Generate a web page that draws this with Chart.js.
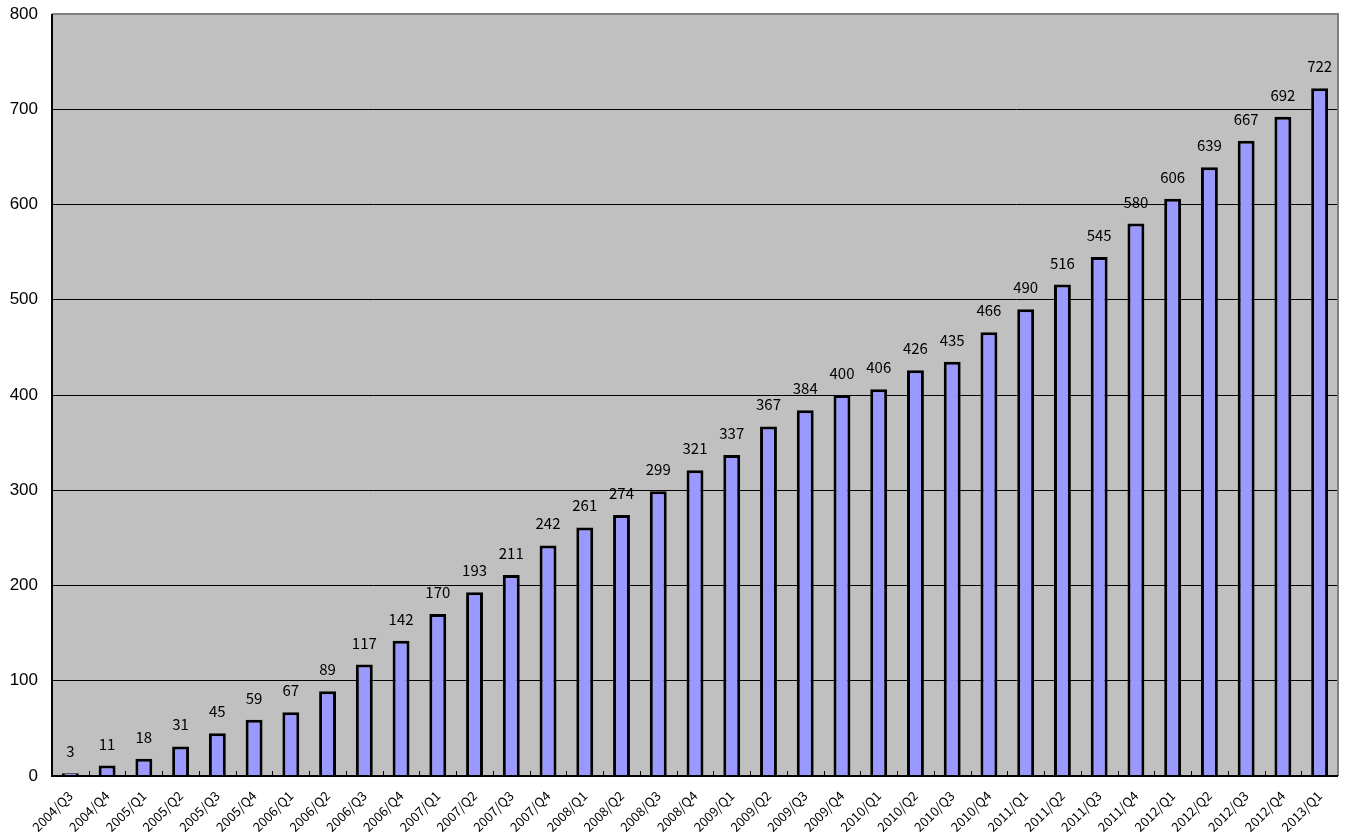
<!DOCTYPE html>
<html>
<head>
<meta charset="utf-8">
<script src="https://cdn.jsdelivr.net/npm/chart.js@4"></script>
<style>
  body { margin: 0; background: #fff; }
  #wrap { width: 1346px; height: 834px; }
</style>
</head>
<body>
<div id="wrap"><canvas id="myChart" width="1346" height="834"></canvas></div>
<script>
const quarters = [
  "2004/Q3", "2004/Q4",
  "2005/Q1", "2005/Q2", "2005/Q3", "2005/Q4",
  "2006/Q1", "2006/Q2", "2006/Q3", "2006/Q4",
  "2007/Q1", "2007/Q2", "2007/Q3", "2007/Q4",
  "2008/Q1", "2008/Q2", "2008/Q3", "2008/Q4",
  "2009/Q1", "2009/Q2", "2009/Q3", "2009/Q4",
  "2010/Q1", "2010/Q2", "2010/Q3", "2010/Q4",
  "2011/Q1", "2011/Q2", "2011/Q3", "2011/Q4",
  "2012/Q1", "2012/Q2", "2012/Q3", "2012/Q4",
  "2013/Q1"
];
const counts = [
  3, 11, 18, 31, 45, 59, 67, 89, 117, 142,
  170, 193, 211, 242, 261, 274, 299, 321, 337, 367,
  384, 400, 406, 426, 435, 466, 490, 516, 545, 580,
  606, 639, 667, 692, 722
];
const yMin = 0;
const yMax = 800;
const yStep = 100;

// gray plot background + frame
const plotArea = {
  id: "plotArea",
  beforeDraw(chart) {
    const { ctx, chartArea: a } = chart;
    ctx.save();
    ctx.fillStyle = "#c0c0c0";
    ctx.fillRect(a.left, a.top, a.right - a.left, a.bottom - a.top);
    ctx.restore();
  },
  afterDraw(chart) {
    const { ctx, chartArea: a, scales } = chart;
    ctx.save();
    ctx.strokeStyle = "#808080";
    ctx.lineWidth = 2;
    ctx.beginPath();
    ctx.moveTo(a.left, a.top);
    ctx.lineTo(a.right, a.top);
    ctx.lineTo(a.right, a.bottom);
    ctx.stroke();
    ctx.strokeStyle = "#000";
    ctx.beginPath();
    ctx.moveTo(a.left, a.top);
    ctx.lineTo(a.left, a.bottom);
    ctx.lineTo(a.right, a.bottom);
    ctx.stroke();
    // small inner tick marks between categories
    const x = scales.x;
    ctx.lineWidth = 1;
    ctx.beginPath();
    for (let i = 0; i < quarters.length - 1; i++) {
      const px = Math.round((x.getPixelForValue(i) + x.getPixelForValue(i + 1)) / 2) + 0.5;
      ctx.moveTo(px, a.bottom);
      ctx.lineTo(px, a.bottom - 5);
    }
    ctx.stroke();
    ctx.restore();
  }
};

// value labels above the bars
const valueLabels = {
  id: "valueLabels",
  afterDatasetsDraw(chart) {
    const { ctx } = chart;
    const meta = chart.getDatasetMeta(0);
    ctx.save();
    ctx.fillStyle = "#000";
    ctx.font = "15px 'Noto Sans CJK JP', sans-serif";
    ctx.textAlign = "center";
    ctx.textBaseline = "alphabetic";
    meta.data.forEach((bar, i) => {
      ctx.fillText(String(counts[i]), bar.x, bar.y - 16);
    });
    ctx.restore();
  }
};

const ctx = document.getElementById("myChart").getContext("2d");
const myChart = new Chart(ctx, {
  type: "bar",
  data: {
    labels: quarters,
    datasets: [
      {
        data: counts,
        backgroundColor: "#9999ff",
        borderColor: "#000000",
        borderWidth: 3,
        barPercentage: 0.46,
        categoryPercentage: 1,
      },
    ],
  },
  options: {
    responsive: false,
    animation: false,
    layout: { padding: { top: 14, right: 8, left: 0, bottom: 0 } },
    plugins: {
      legend: { display: false },
      tooltip: { enabled: false },
    },
    scales: {
      x: {
        offset: true,
        grid: { display: false },
        border: { display: false },
        ticks: {
          color: "#000",
          maxRotation: 45,
          minRotation: 45,
          autoSkip: false,
          padding: 4,
          font: { family: "'Noto Sans CJK JP', sans-serif", size: 13 },
        },
        afterFit(scale) {
          scale.height = 58;
        },
      },
      y: {
        min: yMin,
        max: yMax,
        ticks: {
          stepSize: yStep,
          color: "#000",
          padding: 14,
          font: { family: "Arial, 'Liberation Sans', sans-serif", size: 17 },
        },
        grid: {
          color: "#000",
          lineWidth: 1,
          drawTicks: false,
        },
        border: { display: false },
        afterFit(scale) {
          scale.width = 52;
          scale.paddingTop = 0;
          scale.paddingBottom = 0;
        },
      },
    },
  },
  plugins: [plotArea, valueLabels],
});
</script>
</body>
</html>
